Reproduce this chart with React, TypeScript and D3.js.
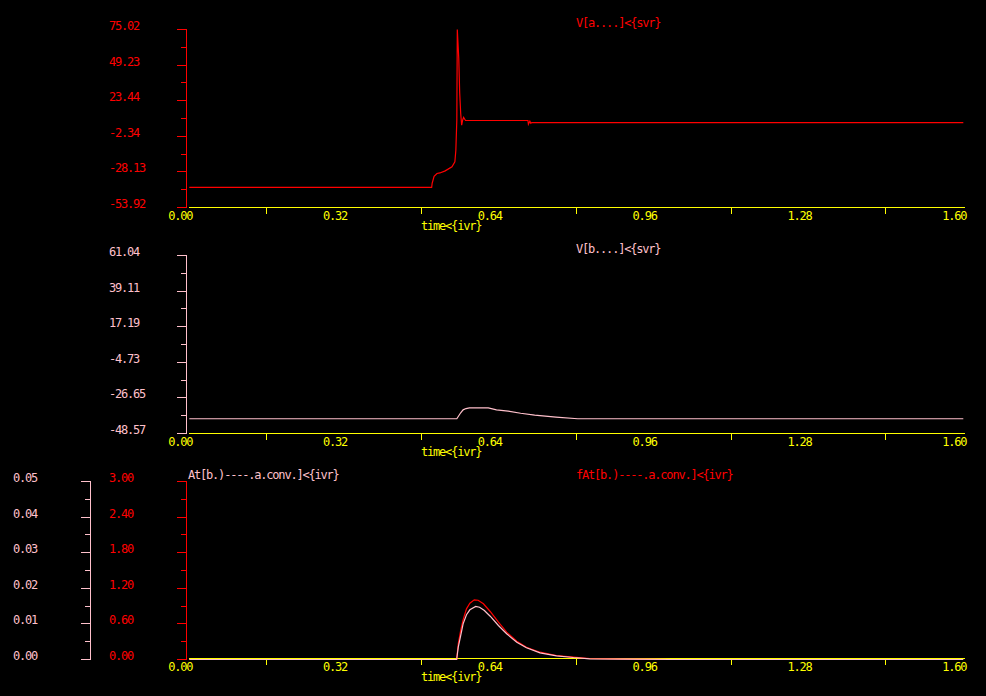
import * as d3 from 'd3';
import React, { useEffect, useRef } from 'react';

// time axis (shared by the three panels)
const timeLabels = [0, 0.32, 0.64, 0.96, 1.28, 1.6];

// panel 1 : V[a....]<{svr}
const vaTicks = [-53.92, -28.13, -2.34, 23.44, 49.23, 75.02];
const vaTime = [0, 0.501, 0.502, 0.506, 0.512, 0.518, 0.529, 0.543, 0.549, 0.551, 0.553, 0.554,
    0.557, 0.559, 0.561, 0.563, 0.565, 0.567, 0.571, 0.700, 0.701, 0.704, 0.706, 0.708, 1.6];
const vaValue = [-39.4, -39.4, -36.5, -31.3, -29.3, -28.9, -27.4, -24.5, -20.9, -12.4, 9.3, 75.0,
    54.2, 28.9, 14.4, 5.7, 9.3, 11.3, 9.1, 9.1, 6.4, 8.6, 7.1, 7.6, 7.6];

// panel 2 : V[b....]<{svr}
const vbTicks = [-48.57, -26.65, -4.73, 17.19, 39.11, 61.04];
const vbTime = [0, 0.553, 0.556, 0.561, 0.566, 0.572, 0.579, 0.618, 0.635, 0.659, 0.685, 0.714,
    0.758, 0.803, 1.6];
const vbValue = [-39.5, -39.5, -38.1, -35.8, -34.0, -33.2, -32.8, -32.8, -34.0, -34.8, -36.1, -37.3,
    -38.5, -39.5, -39.5];

// panel 3 : At[...] (left, pink) and fAt[...] (right, red)
const atTicks = [0, 0.01, 0.02, 0.03, 0.04, 0.05];
const fatTicks = [0, 0.6, 1.2, 1.8, 2.4, 3.0];
const atTime = [0, 0.5527, 0.556, 0.561, 0.566, 0.573, 0.580, 0.592, 0.600, 0.610, 0.622, 0.639,
    0.656, 0.677, 0.697, 0.725, 0.759, 0.794, 0.828, 0.9, 1.0, 1.6];
const atValue = [0, 0, 0.00346, 0.00674, 0.01003, 0.01256, 0.01396, 0.01489, 0.01469, 0.01376,
    0.01216, 0.00955, 0.00722, 0.00486, 0.00329, 0.00188, 0.00104, 0.00056, 0.0002, 0.0001, 0, 0];
const fatTime = [0, 0.5527, 0.556, 0.561, 0.566, 0.573, 0.580, 0.589, 0.597, 0.608, 0.622, 0.639,
    0.656, 0.677, 0.697, 0.725, 0.759, 0.794, 0.828, 0.9, 1.0, 1.285];
const fatValue = [0, 0, 0.265, 0.489, 0.669, 0.854, 0.949, 1.006, 0.999, 0.939, 0.809, 0.629,
    0.460, 0.308, 0.207, 0.123, 0.067, 0.039, 0.017, 0.005, 0, 0];

const RED = '#ff0000';
const PINK = '#ffc0cb';
const YELLOW = '#ffff00';
const FONT = '"DejaVu Sans Mono", monospace';

function App() {
    const ref = useRef(null);

    useEffect(() => {
        const svg = d3.select(ref.current);
        svg.selectAll('*').remove();

        const x = d3.scaleLinear().domain([0, 1.6]).range([189.3, 963.3]);

        const text = (g, str, tx, ty, color, anchor = 'start') => g.append('text')
            .attr('x', tx).attr('y', ty)
            .attr('fill', color)
            .attr('text-anchor', anchor)
            .style('font-family', FONT)
            .style('font-size', '12px')
            .style('letter-spacing', '-1.2px')
            .text(str);

        // y axis with major ticks + midpoint minor ticks
        function yAxis(scale, ticks, axisX, labelX, color) {
            const g = svg.append('g').attr('shape-rendering', 'crispEdges');
            const [b, t] = scale.range();
            g.append('line').attr('x1', axisX).attr('x2', axisX).attr('y1', t).attr('y2', b)
                .attr('stroke', color);
            ticks.forEach((v, i) => {
                g.append('line').attr('x1', axisX - 10).attr('x2', axisX)
                    .attr('y1', scale(v)).attr('y2', scale(v)).attr('stroke', color);
                text(g, v.toFixed(2), labelX, scale(v) + 0.5, color);
                if (i < ticks.length - 1) {
                    const m = scale((v + ticks[i + 1]) / 2);
                    g.append('line').attr('x1', axisX - 6).attr('x2', axisX)
                        .attr('y1', m).attr('y2', m).attr('stroke', color);
                }
            });
        }

        // time axis
        function xAxis(yPos) {
            const g = svg.append('g').attr('shape-rendering', 'crispEdges');
            g.append('line').attr('x1', 189).attr('x2', 965).attr('y1', yPos).attr('y2', yPos)
                .attr('stroke', YELLOW);
            timeLabels.forEach((v, i) => {
                text(g, v.toFixed(2), x(v) + 3, yPos + 12, YELLOW, 'end');
                if (i < timeLabels.length - 1) {
                    const m = x((v + timeLabels[i + 1]) / 2);
                    g.append('line').attr('x1', m).attr('x2', m).attr('y1', yPos).attr('y2', yPos + 6)
                        .attr('stroke', YELLOW);
                }
            });
            text(g, 'time<{ivr}', 421, yPos + 22, YELLOW);
        }

        function series(times, values, scale, color) {
            const line = d3.line()
                .x((d, i) => x(times[i]))
                .y((d) => scale(d));
            svg.append('path')
                .datum(values)
                .attr('fill', 'none')
                .attr('stroke', color)
                .attr('stroke-width', 1.2)
                .attr('d', line);
        }

        // Panel 1
        const y1 = d3.scaleLinear().domain([vaTicks[0], vaTicks[5]]).range([207.5, 29.5]);
        yAxis(y1, vaTicks, 186.5, 109, RED);
        xAxis(207.5);
        series(vaTime, vaValue, y1, RED);
        text(svg, 'V[a....]<{svr}', 576, 26.5, RED);

        // Panel 2
        const y2 = d3.scaleLinear().domain([vbTicks[0], vbTicks[5]]).range([433.5, 255.5]);
        yAxis(y2, vbTicks, 186.5, 109, PINK);
        xAxis(433.5);
        series(vbTime, vbValue, y2, PINK);
        text(svg, 'V[b....]<{svr}', 576, 252.5, PINK);

        // Panel 3
        const y3a = d3.scaleLinear().domain([0, 0.05]).range([659.5, 481.5]);
        const y3f = d3.scaleLinear().domain([0, 3]).range([659.5, 481.5]);
        yAxis(y3a, atTicks, 90.5, 13, PINK);
        yAxis(y3f, fatTicks, 186.5, 109, RED);
        xAxis(658.5);
        series(fatTime, fatValue, y3f, RED);
        series(atTime, atValue, y3a, PINK);
        text(svg, 'At[b.)----.a.conv.]<{ivr}', 188, 478.5, PINK);
        text(svg, 'fAt[b.)----.a.conv.]<{ivr}', 576, 478.5, RED);
    }, []);

    return (
        <div style={{ background: '#000', width: 986, height: 696 }}>
            <style>{'body{margin:0;background:#000;}'}</style>
            <svg ref={ref} width={986} height={696} style={{ display: 'block', background: '#000' }} />
        </div>
    );
}

export default App;
